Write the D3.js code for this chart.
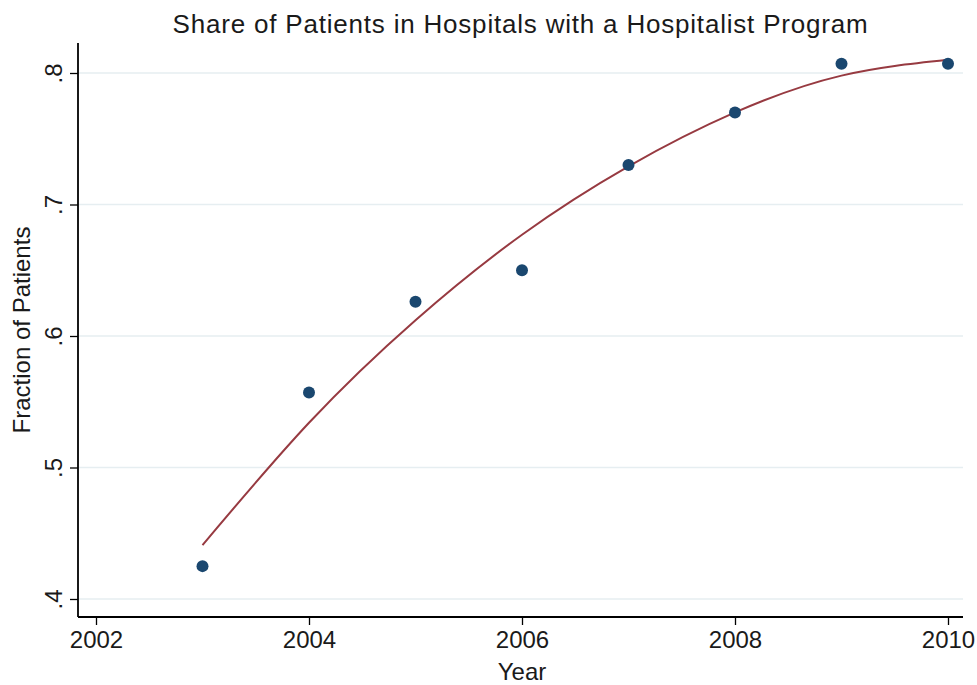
<!DOCTYPE html>
<meta charset="UTF-8">
<title>Share of Patients in Hospitals with a Hospitalist Program</title>
<style>
  body { margin: 0; background: #fff; }
  text { font-family: "Liberation Sans", Arial, sans-serif; fill: #1a1a1a; }
</style>
<svg width="977" height="685"></svg>
<script src="https://d3js.org/d3.v7.min.js"></script>
<script>
// observed share by year
var years = [2003, 2004, 2005, 2006, 2007, 2008, 2009, 2010];
var share = [0.425, 0.557, 0.626, 0.650, 0.730, 0.770, 0.807, 0.807];
// fitted (quadratic) curve
var fitted = [0.441, 0.534, 0.612, 0.677, 0.729, 0.770, 0.798, 0.810];
var xTicks = [2002, 2004, 2006, 2008, 2010];
var yTicks = [0.4, 0.5, 0.6, 0.7, 0.8];

var svg = d3.select("svg"),
    plot = {left: 78, right: 963, top: 43, bottom: 617};

var x = d3.scaleLinear().domain([2002, 2010]).range([96, 948]);
var y = d3.scaleLinear().domain([0.4, 0.8]).range([599, 73]);

// grid
svg.append("g").selectAll("line")
  .data(yTicks)
  .join("line")
    .attr("x1", plot.left).attr("x2", plot.right)
    .attr("y1", d => y(d)).attr("y2", d => y(d))
    .attr("stroke", "#e6eef1")
    .attr("stroke-width", 1.5);

// axes
var xAxis = svg.append("g")
    .attr("transform", "translate(0," + plot.bottom + ")")
    .call(d3.axisBottom(x).tickValues(xTicks).tickFormat(d3.format("d")).tickSize(8).tickPadding(6));
xAxis.select(".domain").remove();
xAxis.selectAll("line").attr("stroke", "#000").attr("stroke-width", 1.3);
xAxis.selectAll("text").attr("font-size", 24).attr("fill", "#1a1a1a")
    .attr("font-family", "Liberation Sans, Arial, sans-serif");

var yAxis = svg.append("g")
    .attr("transform", "translate(" + plot.left + ",0)")
    .call(d3.axisLeft(y).tickValues(yTicks).tickFormat(d => d3.format(".1f")(d).replace(/^0/, "")).tickSize(8));
yAxis.select(".domain").remove();
yAxis.selectAll("line").attr("stroke", "#000").attr("stroke-width", 1.3);
yAxis.selectAll("text")
    .attr("font-size", 24).attr("fill", "#1a1a1a")
    .attr("font-family", "Liberation Sans, Arial, sans-serif")
    .attr("x", null).attr("dy", null)
    .attr("text-anchor", "middle")
    .attr("transform", "translate(-16,0) rotate(-90)");

svg.append("line")
    .attr("x1", plot.left).attr("x2", plot.left)
    .attr("y1", plot.top).attr("y2", plot.bottom)
    .attr("stroke", "#000").attr("stroke-width", 1.8);
svg.append("line")
    .attr("x1", plot.left).attr("x2", plot.right)
    .attr("y1", plot.bottom).attr("y2", plot.bottom)
    .attr("stroke", "#000").attr("stroke-width", 1.8);

// fitted curve
var line = d3.line()
    .curve(d3.curveNatural)
    .x((d, i) => x(years[i]))
    .y(d => y(d));

svg.append("path")
    .datum(fitted)
    .attr("fill", "none")
    .attr("stroke", "#973a41")
    .attr("stroke-width", 2)
    .attr("d", line);

// points
svg.append("g").selectAll("circle")
  .data(share)
  .join("circle")
    .attr("cx", (d, i) => x(years[i]))
    .attr("cy", d => y(d))
    .attr("r", 6)
    .attr("fill", "#1a476f");

// titles
svg.append("text")
    .attr("x", (plot.left + plot.right) / 2)
    .attr("y", 33)
    .attr("text-anchor", "middle")
    .attr("font-size", 26)
    .attr("letter-spacing", 0.8)
    .text("Share of Patients in Hospitals with a Hospitalist Program");

svg.append("text")
    .attr("x", x(2006))
    .attr("y", 680)
    .attr("text-anchor", "middle")
    .attr("font-size", 24)
    .text("Year");

svg.append("text")
    .attr("transform", "translate(30," + (plot.top + plot.bottom) / 2 + ") rotate(-90)")
    .attr("text-anchor", "middle")
    .attr("font-size", 24)
    .text("Fraction of Patients");
</script>
